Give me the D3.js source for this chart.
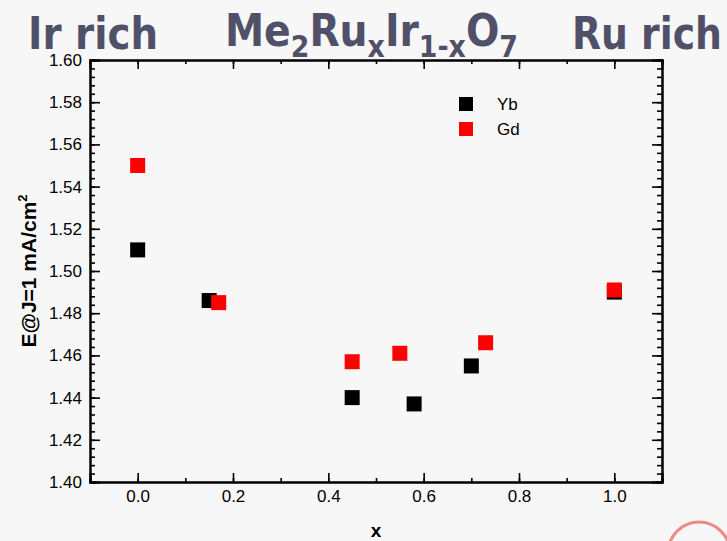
<!DOCTYPE html>
<html>
<head>
<meta charset="utf-8">
<script src="https://d3js.org/d3.v7.min.js"></script>
<style>
  body { margin: 0; background: #f7f7f7; }
  svg { display: block; }
</style>
</head>
<body>
<div class="diagram"></div>
<script>
// values
var seriesNames = ["Yb", "Gd"];
var seriesColors = ["#000000", "#ff0000"];
var ybX = [0.0, 0.15, 0.45, 0.58, 0.70, 1.0];
var ybE = [1.510, 1.486, 1.440, 1.437, 1.455, 1.490];
var gdX = [0.0, 0.17, 0.45, 0.55, 0.73, 1.0];
var gdE = [1.550, 1.485, 1.457, 1.461, 1.466, 1.491];
var xTicks = [0.0, 0.2, 0.4, 0.6, 0.8, 1.0];
var yTicks = [1.40, 1.42, 1.44, 1.46, 1.48, 1.50, 1.52, 1.54, 1.56, 1.58, 1.60];

var w = 727, h = 541;
// plot frame (note: "top" is taken by window.top, so use p* names)
var pLeft = 90, pRight = 662, pTop = 60, pBottom = 482;

var svg = d3.select("div.diagram").append("svg")
    .attr("width", w).attr("height", h);

svg.append("rect").attr("width", w).attr("height", h).attr("fill", "#f7f7f7");

var x = d3.scaleLinear().domain([-0.1, 1.1]).range([pLeft, pRight]);
var y = d3.scaleLinear().domain([1.40, 1.60]).range([pBottom, pTop]);

var xMinor = d3.range(-0.1, 1.1001, 0.1).map(function(d) { return +d.toFixed(2); });
var yMinor = d3.range(1.40, 1.6001, 0.004).map(function(d) { return +d.toFixed(3); });

function styleAxis(g) {
    g.selectAll("path").attr("stroke", "#000").attr("stroke-width", 2);
    g.selectAll("line").attr("stroke", "#000").attr("stroke-width", 1.6);
    g.selectAll("text").attr("font-family", "'Liberation Sans', Arial, sans-serif")
        .attr("font-size", "17px").attr("fill", "#000");
}

// minor ticks (all four sides)
svg.append("g").attr("transform", "translate(0," + pBottom + ")")
    .call(d3.axisBottom(x).tickValues(xMinor).tickSize(-4).tickFormat("")).call(styleAxis);
svg.append("g").attr("transform", "translate(0," + pTop + ")")
    .call(d3.axisTop(x).tickValues(xMinor).tickSize(-4).tickFormat("")).call(styleAxis);
svg.append("g").attr("transform", "translate(" + pLeft + ",0)")
    .call(d3.axisLeft(y).tickValues(yMinor).tickSize(-5).tickFormat("")).call(styleAxis);
svg.append("g").attr("transform", "translate(" + pRight + ",0)")
    .call(d3.axisRight(y).tickValues(yMinor).tickSize(-5).tickFormat("")).call(styleAxis);

// major ticks
svg.append("g").attr("transform", "translate(0," + pBottom + ")")
    .call(d3.axisBottom(x).tickValues(xTicks).tickSize(-9).tickPadding(8).tickFormat(d3.format(".1f")))
    .call(styleAxis);
svg.append("g").attr("transform", "translate(0," + pTop + ")")
    .call(d3.axisTop(x).tickValues(xTicks).tickSize(-9).tickFormat("")).call(styleAxis);
svg.append("g").attr("transform", "translate(" + pLeft + ",0)")
    .call(d3.axisLeft(y).tickValues(yTicks).tickSize(-10).tickPadding(8).tickFormat(d3.format(".2f")))
    .call(styleAxis);
svg.append("g").attr("transform", "translate(" + pRight + ",0)")
    .call(d3.axisRight(y).tickValues(yTicks).tickSize(-10).tickFormat("")).call(styleAxis);

// markers
var ms = 15;
var series = [d3.zip(ybX, ybE), d3.zip(gdX, gdE)];
series.forEach(function(pts, k) {
    svg.append("g").selectAll("rect").data(pts).enter().append("rect")
        .attr("x", function(d) { return x(d[0]) - ms / 2; })
        .attr("y", function(d) { return y(d[1]) - ms / 2; })
        .attr("width", ms).attr("height", ms)
        .attr("fill", seriesColors[k]);
});

// legend
var leg = svg.append("g");
seriesNames.forEach(function(name, k) {
    var ly = 104 + k * 25;
    leg.append("rect").attr("x", 459).attr("y", ly - 7).attr("width", 14).attr("height", 14)
        .attr("fill", seriesColors[k]);
    leg.append("text").attr("x", 497).attr("y", ly + 6)
        .attr("font-family", "'Liberation Sans', Arial, sans-serif").attr("font-size", "17px")
        .text(name);
});

// axis titles
svg.append("text").attr("transform", "translate(36,271) rotate(-90)")
    .attr("text-anchor", "middle")
    .attr("font-family", "'Liberation Sans', Arial, sans-serif")
    .attr("font-weight", "bold").attr("font-size", "21px")
    .text("E@J=1 mA/cm")
    .append("tspan").attr("font-size", "13px").attr("dy", "-9").text("2");

svg.append("text").attr("x", 376).attr("y", 537).attr("text-anchor", "middle")
    .attr("font-family", "'Liberation Sans', Arial, sans-serif")
    .attr("font-weight", "bold").attr("font-size", "19px").text("x");

// slide headings
var titleColor = "#505169";
function fitText(sel, x0, x1) {
    var bb = sel.node().getBBox();
    var s = (x1 - x0) / bb.width;
    sel.attr("transform", "translate(" + x0 + ",0) scale(" + s + ",1) translate(" + (-bb.x) + ",0)");
}
var titleFont = "'DejaVu Sans', Verdana, sans-serif";

var t1 = svg.append("text").attr("x", 0).attr("y", 49)
    .attr("font-family", titleFont).attr("font-weight", "bold").attr("font-size", "44px")
    .attr("fill", titleColor).text("Ir rich");
fitText(t1, 28, 158);

var t3 = svg.append("text").attr("x", 0).attr("y", 49)
    .attr("font-family", titleFont).attr("font-weight", "bold").attr("font-size", "44px")
    .attr("fill", titleColor).text("Ru rich");
fitText(t3, 572, 722);

var t2 = svg.append("text").attr("x", 0).attr("y", 46)
    .attr("font-family", titleFont).attr("font-weight", "bold").attr("font-size", "44px")
    .attr("fill", titleColor);
var parts = [["Me", 0], ["2", 1], ["Ru", 0], ["x", 1], ["Ir", 0], ["1-x", 1], ["O", 0], ["7", 1]];
parts.forEach(function(p) {
    t2.append("tspan").attr("font-size", p[1] ? "30px" : "44px")
        .attr("y", p[1] ? 57 : 46).text(p[0]);
});
fitText(t2, 225, 518);

// logo fragment at the bottom right corner
svg.append("circle").attr("cx", 699).attr("cy", 553).attr("r", 31)
    .attr("fill", "none").attr("stroke", "#ec8a8a").attr("stroke-width", 3);
</script>
</body>
</html>
